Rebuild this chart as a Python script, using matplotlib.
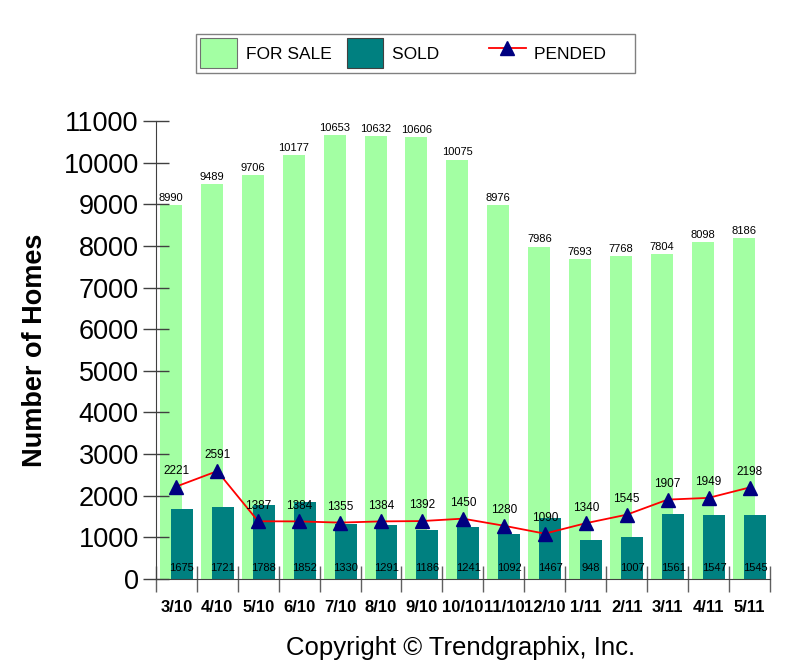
import numpy as np
import matplotlib
matplotlib.use("Agg")
import matplotlib.pyplot as plt
from matplotlib.patches import Patch
from matplotlib.lines import Line2D

months = ["3/10", "4/10", "5/10", "6/10", "7/10", "8/10", "9/10", "10/10",
          "11/10", "12/10", "1/11", "2/11", "3/11", "4/11", "5/11"]
for_sale = [8990, 9489, 9706, 10177, 10653, 10632, 10606, 10075,
            8976, 7986, 7693, 7768, 7804, 8098, 8186]
sold = [1675, 1721, 1788, 1852, 1330, 1291, 1186, 1241,
        1092, 1467, 948, 1007, 1561, 1547, 1545]
pended = [2221, 2591, 1387, 1384, 1355, 1384, 1392, 1450,
          1280, 1090, 1340, 1545, 1907, 1949, 2198]
y_ticks = list(range(0, 11001, 1000))

plt.rcParams["font.family"] = ["Liberation Sans", "DejaVu Sans"]

fig = plt.figure(figsize=(7.99, 6.66), dpi=100)
ax = fig.add_axes([0.195, 0.1306, 0.7687, 0.6877])

x = np.arange(len(months))
w = 0.537
off = 0.134

ax.bar(x - off, for_sale, width=w, color="#A3FFA3", zorder=1)
ax.bar(x + off, sold, width=w, color="#008080", zorder=2)
ax.plot(x, pended, color="#FF0000", lw=1.3, zorder=3)
ax.plot(x, pended, linestyle="none", marker="^", ms=10.5,
        color="#000080", zorder=4)

for i in range(len(months)):
    ax.annotate(str(for_sale[i]), (x[i] - off, for_sale[i]), xytext=(0, 1.5),
                textcoords="offset points", ha="center", va="bottom", fontsize=8)
    ax.annotate(str(pended[i]), (x[i], pended[i]), xytext=(0, 7),
                textcoords="offset points", ha="center", va="bottom", fontsize=8.5)
    ax.text(x[i] + off, 150, str(sold[i]), ha="center", va="bottom",
            fontsize=8, zorder=5)

ax.set_xlim(-0.5, len(months) - 0.5)
ax.set_ylim(0, 11000)
ax.set_yticks(y_ticks)
ax.set_yticklabels([str(v) for v in y_ticks], fontsize=19.5)
ax.set_xticks(x)
ax.set_xticklabels(months, fontsize=12, fontweight="bold")
ax.set_xticks(np.arange(len(months) + 1) - 0.5, minor=True)
ax.tick_params(axis="x", which="major", length=0, pad=15)
ax.tick_params(axis="x", which="minor", direction="inout", length=18.5,
               color="#606060", width=1)
ax.tick_params(axis="y", direction="inout", length=18.5, color="#404040",
               width=1, pad=3)

for s in ["top", "right"]:
    ax.spines[s].set_visible(False)
for s in ["left", "bottom"]:
    ax.spines[s].set_color("#404040")
    ax.spines[s].set_zorder(6)

ax.set_ylabel("Number of Homes", fontsize=19.5, fontweight="bold", labelpad=11)

# trailing spaces widen the gaps the way the original legend spaces them
handles = [
    Patch(facecolor="#A3FFA3", edgecolor="#707070", linewidth=0.8, label="FOR SALE"),
    Patch(facecolor="#008080", edgecolor="#404040", linewidth=0.8,
          label="SOLD       "),
    Line2D([], [], color="#FF0000", lw=1.3, marker="^", ms=10.5,
           markerfacecolor="#000080", markeredgecolor="#000080",
           label="PENDED     "),
]
leg = fig.legend(handles=handles, loc="center", bbox_to_anchor=(0.52, 0.920),
                 ncol=3, fontsize=12.5, frameon=True, fancybox=False,
                 handlelength=2.1, handleheight=2.3, columnspacing=0.9,
                 handletextpad=0.5, borderpad=0.25, borderaxespad=0,
                 edgecolor="#606060")
leg.get_frame().set_linewidth(1)

fig.text(0.576, 0.027, "Copyright \u00a9 Trendgraphix, Inc.", ha="center",
         va="center", fontsize=18.5)

fig.savefig("out.png", dpi=100)
